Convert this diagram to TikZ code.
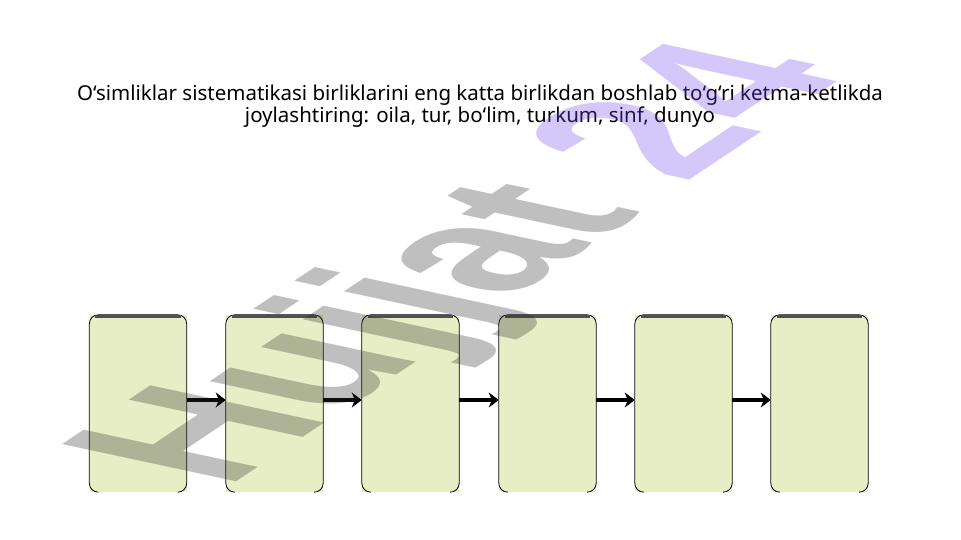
\documentclass[tikz,border=0pt]{standalone}
\usepackage{fontspec}
\newfontfamily\titlefont{Noto Sans}
\newfontfamily\wmfont{Liberation Sans}
\usetikzlibrary{arrows.meta,calc}
\definecolor{boxfill}{RGB}{231,237,196}
\definecolor{boxtop}{RGB}{80,80,80}
\definecolor{wmgray}{RGB}{45,45,45}
\definecolor{wmlav}{RGB}{115,72,238}
\begin{document}
\begin{tikzpicture}[x=1pt,y=-1pt,
  stagebox/.style={rectangle, minimum width=97pt, minimum height=177pt, fill=boxfill, inner sep=0pt},
  sidebd/.style={draw=black, line width=0.8pt, rounded corners=9pt},
  topbd/.style={draw=boxtop, line width=3pt},
  flow/.style={line width=3.5pt, -{Stealth[length=10pt,width=15pt,inset=3pt]}}]
\useasboundingbox[fill=white] (0,0) rectangle (961,540);
\foreach \i/\x in {1/138, 2/274.5, 3/410.5, 4/547.5, 5/683.5, 6/819.5}{
  \node[stagebox] (b\i) at (\x,403.5) {};
  \draw[sidebd] ($(b\i.south west)+(9,0)$) -- (b\i.south west) -- (b\i.north west) -- (b\i.north east) -- (b\i.south east) -- ($(b\i.south east)+(-9,0)$);
  \draw[topbd] ($(b\i.north west)+(6,1.5)$) -- ($(b\i.north east)+(-6,1.5)$);
}
\foreach \i/\j in {1/2,2/3,3/4,4/5,5/6}{
  \draw[flow] ([yshift=3.5pt]b\i.east) -- ([yshift=3.5pt]b\j.west);
}
\node[font=\titlefont\fontsize{20.5}{21.5}\selectfont, align=center, anchor=north, inner sep=0pt] (title) at (480,85) {O‘simliklar sistematikasi birliklarini eng katta birlikdan boshlab to‘g‘ri ketma-ketlikda\\joylashtiring: oila, tur, bo‘lim, turkum, sinf, dunyo};
\begin{scope}[shift={(226,489)}, cm={1.50,1.0,-2.529,0.542,(0,0)}]
\node[transform shape, anchor=base west, inner sep=0pt, text opacity=0.3, font=\wmfont\bfseries\fontsize{100}{100}\selectfont] (wm) at (0,0) {\textcolor{wmgray}{Hujjat} \textcolor{wmlav}{24}};
\end{scope}
\end{tikzpicture}
\end{document}
